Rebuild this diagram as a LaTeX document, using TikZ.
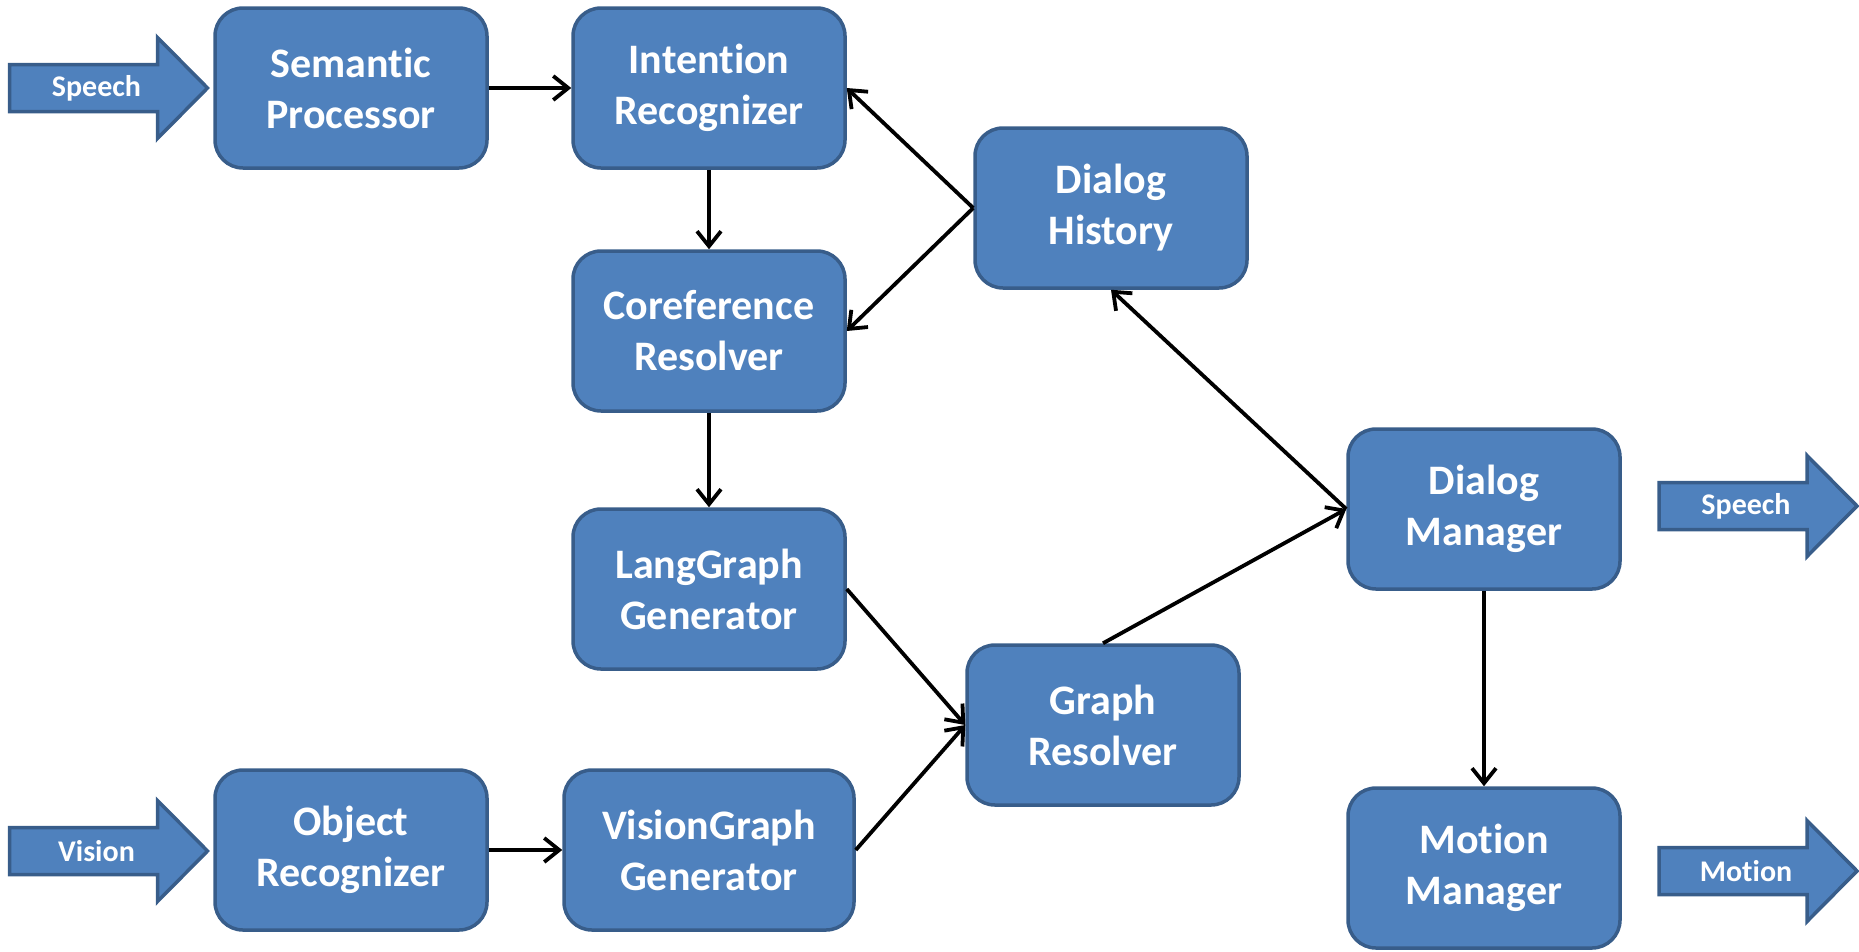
\documentclass[tikz,border=0pt]{standalone}
\usepackage{fontspec}
\setmainfont{Carlito}[Ligatures=NoCommon, Contextuals=NoAlternate]
\usetikzlibrary{arrows.meta}
\definecolor{boxfill}{HTML}{4F81BD}
\definecolor{boxedge}{HTML}{385D8A}
\begin{document}
\begin{tikzpicture}[x=1pt,y=-1pt,
  module/.style={draw=boxedge, fill=boxfill, line width=3.5pt, rounded corners=28pt,
    minimum width=272pt, minimum height=160pt, inner sep=0pt, align=center,
    text=white, font=\fontsize{42}{51}\selectfont\bfseries},
  flow/.style={line width=3.8pt, -{Straight Barb[length=15pt,width=24pt]}},
  iolabel/.style={text=white, font=\fontsize{30}{36}\selectfont\bfseries, inner sep=0pt},
  pics/io/.style={code={
    \draw[draw=boxedge, fill=boxfill, line width=3.5pt, line join=miter]
      (0,-23.5) -- (148,-23.5) -- (148,-50.5) -- (198,0) -- (148,50.5)
      -- (148,23.5) -- (0,23.5) -- cycle;
    \node[iolabel] (-label) at (87,0) {\tikzpictext};
  }}]
\useasboundingbox (0,0) rectangle (1859,951);

% processing modules
\node[module] (sp) at (351,88)  {Semantic\\Processor};
\node[module] (ir) at (709,88)  {Intention\\Recognizer};
\node[module] (dh) at (1111,208) {Dialog\\History};
\node[module] (cr) at (709,331) {Coreference\\Resolver};
\node[module] (lg) at (709,589) {LangGraph\\Generator};
\node[module] (gr) at (1103,725) {Graph\\Resolver};
\node[module] (dm) at (1484,509) {Dialog\\Manager};
\node[module] (mm) at (1484,868) {Motion\\Manager};
\node[module] (or) at (351,850) {Object\\Recognizer};
\node[module, minimum width=290pt] (vg) at (709,850) {VisionGraph\\Generator};

% inputs and outputs
\pic (spin)  at (9.5,88)  [pic text=Speech] {io};
\pic (visin) at (9.5,851) [pic text=Vision] {io};
\pic (spout) at (1659,506) [pic text=Speech] {io};
\pic (moout) at (1659,871) [pic text=Motion] {io};

% data flow
\draw[flow] (sp) -- (ir);
\draw[flow] (ir) -- (cr);
\draw[flow] (dh.west) -- (ir.east);
\draw[flow] (dh.west) -- (cr.east);
\draw[flow] (cr) -- (lg);
\draw[flow] (lg.east) -- (gr.west);
\draw[flow] (vg.east) -- (gr.west);
\draw[flow] (gr.north) -- (dm.west);
\draw[flow] (dm.west) -- (dh.south);
\draw[flow] (dm) -- (mm);
\draw[flow] (or) -- (vg);
\end{tikzpicture}
\end{document}
